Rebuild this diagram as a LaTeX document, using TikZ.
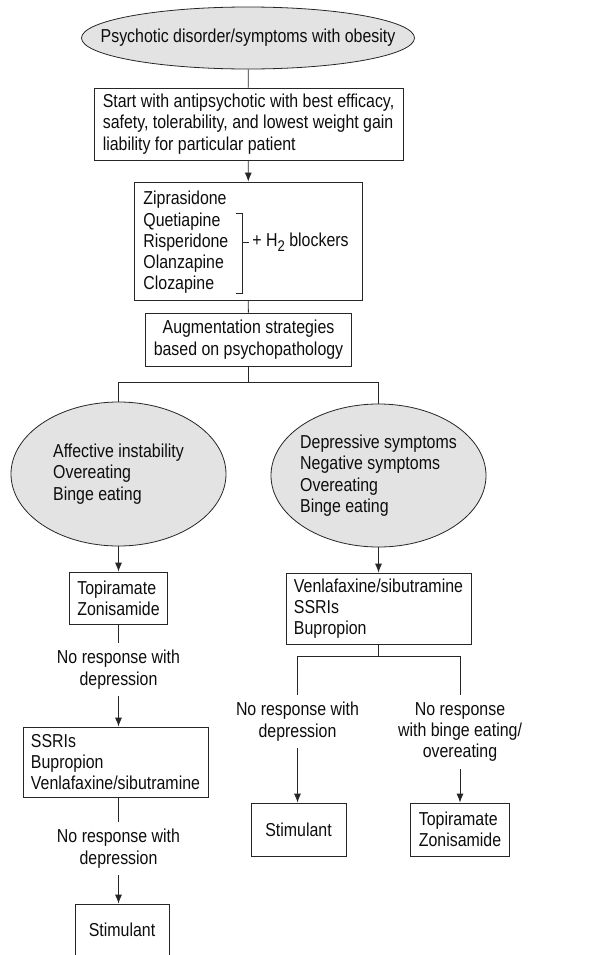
\documentclass[tikz,border=0pt]{standalone}
\usepackage{fontspec}
\setmainfont[FakeStretch=0.85]{Liberation Sans}
\usetikzlibrary{arrows.meta, shapes.geometric, positioning}

\begin{document}
\begin{tikzpicture}[x=1bp, y=-1bp, line width=0.8bp, draw=black!85, text=black!95,
  font=\fontsize{18.8}{21.4}\selectfont, >={Latex[length=9bp, width=7bp]},
  box/.style={draw, rectangle, inner xsep=8bp, inner ysep=5bp},
  oval/.style={draw, ellipse, fill=black!11, inner sep=0bp},
  note/.style={align=center, inner xsep=0bp, inner ysep=7bp}]
\useasboundingbox (0,0) rectangle (612,955);

% Start
\node[oval, inner xsep=-32bp, minimum width=333bp, minimum height=62bp] (onset) at (248,38) {Psychotic disorder/symptoms with obesity};
\node[box, align=left, minimum width=309bp, minimum height=72bp] (first) at (248.5,124)
  {Start with antipsychotic with best efficacy,\\safety, tolerability, and lowest weight gain\\liability for particular patient};
\draw (onset) -- (first);

% Antipsychotics
\node[box, minimum width=228bp, minimum height=118bp] (drugbox) at (248,241) {};
\node[anchor=west, align=left, inner sep=0bp] (drugs) at (143,242.5)
  {Ziprasidone\\Quetiapine\\Risperidone\\Olanzapine\\Clozapine};
\draw (236,213) -- (242,213) -- (242,293) -- (236,293);
\draw (242,242) -- (249,242);
\node[anchor=west, inner sep=0bp] (hblock) at (252,242) {+ H\raisebox{-0.45ex}{\fontsize{15.5}{15.5}\selectfont 2} blockers};
\draw[->] (first) -- (drugbox);

% Augmentation
\node[box, align=center, minimum width=201bp, minimum height=53bp] (augment) at (248.5,339.5)
  {Augmentation strategies\\based on psychopathology};
\draw (drugbox) -- (augment);
\coordinate (split) at (248.5,382);
\node[oval, align=left, inner xsep=-2bp, minimum width=215bp, minimum height=144bp] (affect) at (118.5,474)
  {Affective instability\\Overeating\\Binge eating};
\node[oval, align=left, inner xsep=-5bp, minimum width=215bp, minimum height=143bp] (depress) at (378.5,475.5)
  {Depressive symptoms\\Negative symptoms\\Overeating\\Binge eating};
\draw (augment) -- (split);
\draw (split) -| (affect.north);
\draw (split) -| (depress.north);

% Left branch
\node[box, align=left, minimum width=95bp, minimum height=52bp] (topiL) at (118.5,598) {Topiramate\\Zonisamide};
\draw[->] (affect) -- (topiL);
\node[note] (norespA) at (118.5,669.5) {No response with\\depression};
\draw (topiL) -- (norespA);
\node[box, align=left, minimum width=185bp, minimum height=70bp] (ssriL) at (115.5,762)
  {SSRIs\\Bupropion\\Venlafaxine/sibutramine};
\draw[->] (norespA) -- (norespA |- ssriL.north);
\node[note] (norespB) at (118.5,848.5) {No response with\\depression};
\draw (ssriL.south -| norespB) -- (norespB);
\node[box, minimum width=94bp, minimum height=52bp] (stimL) at (122,930) {Stimulant};
\draw[->] (norespB) -- (norespB |- stimL.north);

% Right branch
\node[box, align=left, minimum width=185bp, minimum height=71bp] (venlaR) at (378.5,608.5)
  {Venlafaxine/sibutramine\\SSRIs\\Bupropion};
\draw[->] (depress) -- (venlaR);
\coordinate (split2) at (378.5,656);
\node[note] (norespC) at (297.5,721.5) {No response with\\depression};
\node[note] (norespD) at (460,732) {No response\\with binge eating/\\overeating};
\draw (venlaR) -- (split2);
\draw (split2) -| (norespC.north);
\draw (split2) -| (norespD.north);
\node[box, minimum width=95bp, minimum height=53bp] (stimR) at (298.5,829.5) {Stimulant};
\node[box, align=left, minimum width=94bp, minimum height=53bp] (topiR) at (460,829.5) {Topiramate\\Zonisamide};
\draw[->] (norespC) -- (norespC |- stimR.north);
\draw[->] (norespD) -- (norespD |- topiR.north);
\end{tikzpicture}
\end{document}
